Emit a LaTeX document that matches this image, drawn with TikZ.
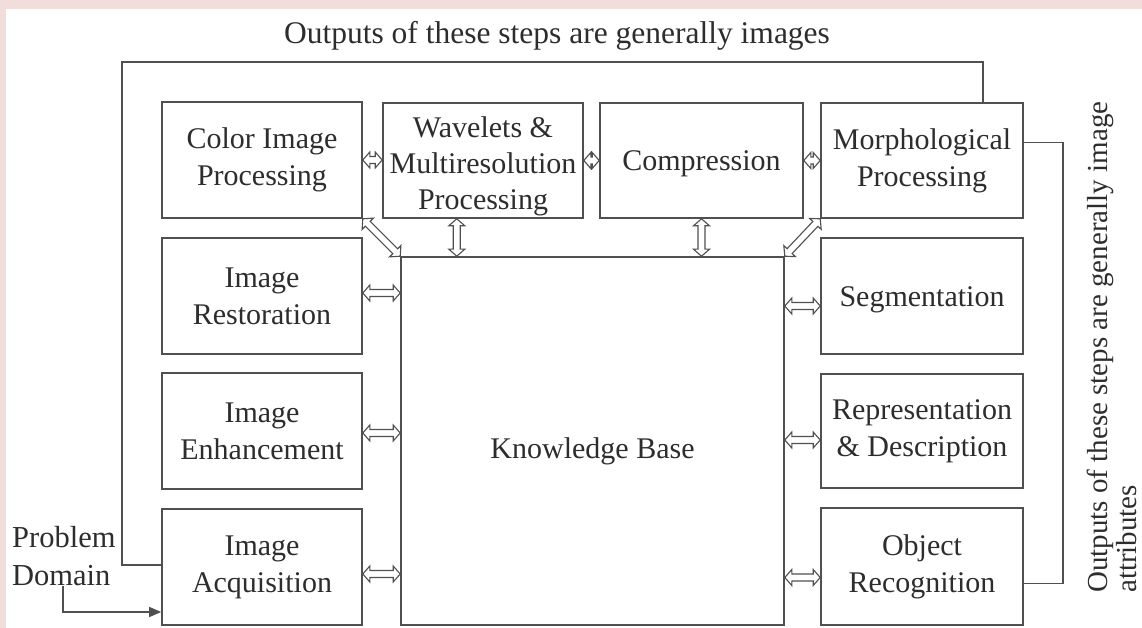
\documentclass[tikz,border=0pt]{standalone}
\usepackage{fontspec}
\setmainfont{Liberation Serif}
\usetikzlibrary{arrows.meta,calc}
\definecolor{frame}{RGB}{242,221,221}
\definecolor{ink}{RGB}{45,45,45}
\definecolor{edge}{RGB}{80,80,80}

\begin{document}
\begin{tikzpicture}[x=1pt,y=-1pt,
  stage/.style={draw=edge, line width=1.6pt, fill=white, minimum width=200pt,
    minimum height=116pt, align=center, font=\fontsize{30}{37}\selectfont,
    text=ink, inner sep=2pt},
  link/.style={draw=edge, line width=1.4pt},
  % hollow two-headed arrow drawn as an outlined polygon
  dual/.style={draw=edge, line width=1.1pt, fill=white, line join=miter,
    to path={
      -- ($(\tikztostart)!7pt!(\tikztotarget)!8pt!90:(\tikztotarget)$)
      -- ($(\tikztostart)!7pt!(\tikztotarget)!3.5pt!90:(\tikztotarget)$)
      -- ($(\tikztotarget)!7pt!(\tikztostart)!3.5pt!270:(\tikztostart)$)
      -- ($(\tikztotarget)!7pt!(\tikztostart)!8pt!270:(\tikztostart)$)
      -- (\tikztotarget)
      -- ($(\tikztotarget)!7pt!(\tikztostart)!8pt!90:(\tikztostart)$)
      -- ($(\tikztotarget)!7pt!(\tikztostart)!3.5pt!90:(\tikztostart)$)
      -- ($(\tikztostart)!7pt!(\tikztotarget)!3.5pt!270:(\tikztotarget)$)
      -- ($(\tikztostart)!7pt!(\tikztotarget)!8pt!270:(\tikztotarget)$)
      -- cycle}},
]
% page frame
\fill[frame] (0,0) rectangle (1142,628);
\fill[white] (6,9) rectangle (1142,628);
\useasboundingbox (0,0) rectangle (1142,628);

% processing stages
\node[stage] (color) at (262,160) {Color Image\\Processing};
\node[stage] (rest) at (262,296) {Image\\Restoration};
\node[stage] (enh) at (262,431) {Image\\Enhancement};
\node[stage] (acq) at (262,567) {Image\\Acquisition};
\node[stage, minimum height=115pt, font=\fontsize{30}{36}\selectfont] (wav) at (483,160.5)
  {\rule{0pt}{32pt}Wavelets \&\\Multiresolution\\Processing};
\node[stage, minimum width=203pt, minimum height=115pt, text height=28pt, text depth=7pt]
  (comp) at (701.5,160.5) {Compression};
\node[stage, minimum width=202pt, minimum height=115pt] (morph) at (922,160.5) {Morphological\\Processing};
\node[stage, minimum width=202pt, text height=28pt, text depth=7pt] (seg) at (922,296) {Segmentation};
\node[stage, minimum width=202pt, minimum height=114pt] (rep) at (922,431) {Representation\\\& Description};
\node[stage, minimum width=202pt, minimum height=117pt] (obj) at (922,566.5) {Object\\Recognition};
\node[stage, minimum width=383pt, minimum height=368pt, text height=42pt, text depth=7pt]
  (kb) at (592.5,441) {Knowledge Base};

% labels
\node[font=\fontsize{31.5}{36}\selectfont, text=ink] (title) at (557,36)
  {Outputs of these steps are generally images};
\node[font=\fontsize{30.5}{38}\selectfont, align=left, anchor=west, inner sep=0pt, text=ink]
  (pd) at (12,556) {Problem\\Domain};
\node[rotate=90, anchor=west, align=left, font=\fontsize{29}{29.5}\selectfont,
  text=ink, inner sep=0pt] (side) at (1112,593)
  {Outputs of these steps are generally image\\attributes};

% links along the top row
\draw[dual] (color.east) to (color.east -| wav.west);
\draw[dual] (wav.east) to (wav.east -| comp.west);
\draw[dual] (comp.east) to (comp.east -| morph.west);

% links into the knowledge base
\draw[dual] (color.south east) to (kb.north west);
\draw[dual] (morph.south west) to (kb.north east);
\coordinate (wk) at ($(wav.south west)!0.37!(wav.south east)$);
\draw[dual] (wk) to (wk |- kb.north);
\draw[dual] (comp.south) to (comp.south |- kb.north);
\draw[dual] ($(rest.east)+(0,-3)$) to ($(rest.east -| kb.west)+(0,-3)$);
\draw[dual] ($(enh.east)+(0,2)$) to ($(enh.east -| kb.west)+(0,2)$);
\draw[dual] ($(acq.east)+(0,7)$) to ($(acq.east -| kb.west)+(0,7)$);
\draw[dual] ($(seg.west -| kb.east)+(0,10)$) to ($(seg.west)+(0,10)$);
\draw[dual] ($(rep.west -| kb.east)+(0,9)$) to ($(rep.west)+(0,9)$);
\draw[dual] ($(obj.west -| kb.east)+(0,11)$) to ($(obj.west)+(0,11)$);

% feedback loops
\coordinate (fb) at (122,62);
\coordinate (mt) at ($(morph.north west)!0.8!(morph.north east)$);
\draw[link] (mt) |- (fb) |- ($(acq.west)+(0,-2)$);
\coordinate (rb) at (1063,400);
\draw[link] ($(morph.east)+(0,-18)$) -| (rb) |- ($(obj.east)+(0,17)$);

% problem domain input
\coordinate (bend) at (63,612);
\draw[link, -{Triangle[length=12pt,width=10pt]}] (pd.south -| bend) |- (acq.west |- bend);
\end{tikzpicture}
\end{document}
